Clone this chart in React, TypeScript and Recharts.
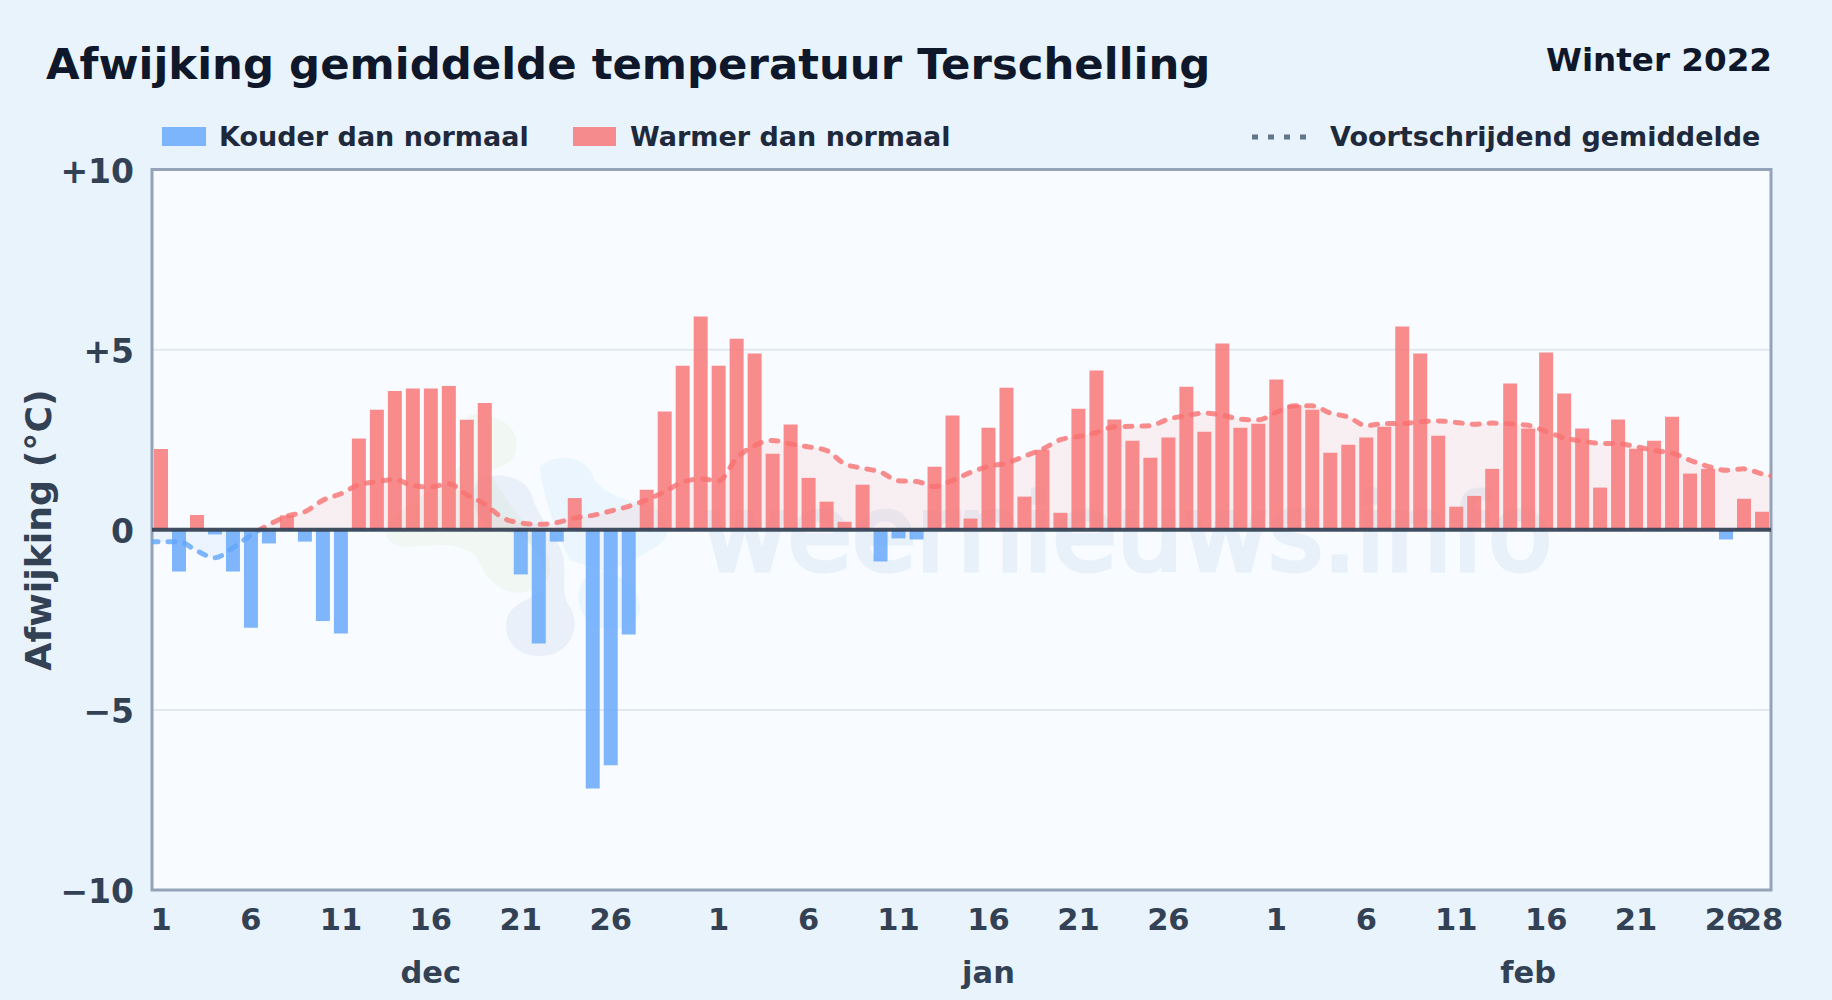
import { Area, Bar, CartesianGrid, ComposedChart, Line, ReferenceArea, ReferenceLine, XAxis, YAxis } from "recharts";

const dec = [2.24, -1.16, 0.41, -0.13, -1.16, -2.72, -0.38, 0.4, -0.33, -2.53, -2.88, 2.53, 3.33, 3.85, 3.92, 3.92, 3.99, 3.05, 3.52, 0, -1.24, -3.16, -0.33, 0.88, -7.18, -6.54, -2.91, 1.11, 3.28, 4.55, 5.92];
const jan = [4.55, 5.3, 4.89, 2.11, 2.92, 1.44, 0.78, 0.22, 1.25, -0.88, -0.24, -0.27, 1.75, 3.17, 0.31, 2.83, 3.94, 0.92, 2.22, 0.47, 3.36, 4.42, 3.06, 2.47, 2.0, 2.56, 3.97, 2.72, 5.17, 2.83, 2.94];
const feb = [4.17, 3.46, 3.33, 2.14, 2.36, 2.56, 2.86, 5.64, 4.89, 2.61, 0.64, 0.94, 1.69, 4.06, 2.81, 4.92, 3.78, 2.81, 1.17, 3.06, 2.25, 2.47, 3.14, 1.56, 1.69, -0.27, 0.86, 0.5];

const gemDec = [-0.33, -0.33, -0.59, -0.78, -0.5, -0.15, 0.14, 0.38, 0.5, 0.82, 1.0, 1.25, 1.33, 1.4, 1.22, 1.19, 1.28, 0.97, 0.71, 0.33, 0.19, 0.15, 0.2, 0.33, 0.4, 0.52, 0.65, 0.83, 1.06, 1.32, 1.41];
const gemJan = [1.36, 1.99, 2.34, 2.48, 2.38, 2.3, 2.2, 1.83, 1.71, 1.6, 1.36, 1.34, 1.2, 1.37, 1.59, 1.76, 1.85, 2.04, 2.24, 2.5, 2.59, 2.7, 2.86, 2.87, 2.89, 3.07, 3.17, 3.24, 3.18, 3.07, 3.05];
const gemFeb = [3.26, 3.44, 3.44, 3.24, 3.13, 2.89, 2.95, 2.95, 3.0, 3.02, 2.98, 2.93, 2.96, 2.94, 2.9, 2.73, 2.55, 2.46, 2.4, 2.39, 2.31, 2.2, 2.13, 1.93, 1.76, 1.65, 1.69, 1.55];
// the line runs on to the frame on both sides, these two rows sit just outside it
const gemRandLinks = -0.33;
const gemRandRechts = 1.45;

const dagTicks = [1, 6, 11, 16, 21, 26, 32, 37, 42, 47, 52, 57, 63, 68, 73, 78, 83, 88, 90];
const dagLabels = ["1", "6", "11", "16", "21", "26", "1", "6", "11", "16", "21", "26", "1", "6", "11", "16", "21", "26", "28"];
const maandTicks = [16, 47, 77];
const maandLabels = ["dec", "jan", "feb"];
const yTicks = [-10, -5, 0, 5, 10];

const afwijking = [...dec, ...jan, ...feb];
const gemiddelde = [...gemDec, ...gemJan, ...gemFeb];

const rows = [
  { dag: 0, gem: gemRandLinks },
  ...afwijking.map((v, i) => ({
    dag: i + 1,
    koud: v < 0 ? v : null,
    warm: v > 0 ? v : null,
    gem: gemiddelde[i],
  })),
  { dag: 91, gem: gemRandRechts },
];

const FONT = "'DejaVu Sans', sans-serif";
const PLOT_TOP = 169.5;
const PLOT_BOTTOM = 890;

const yLabel = (v: number) => (v > 0 ? `+${v}` : v < 0 ? `\u2212${-v}` : "0");

const App = () => {
  return (
    <div style={{ position: "absolute", left: 0, top: 0, width: 1832, height: 1000, background: "#e8f3fc", fontFamily: FONT }}>
      <ComposedChart
        width={1832}
        height={1000}
        data={rows}
        stackOffset="sign"
        margin={{ top: PLOT_TOP, right: 61, bottom: 0, left: 0 }}
      >
        <defs>
          <linearGradient id="gemLijn" gradientUnits="userSpaceOnUse" x1="0" y1={PLOT_TOP} x2="0" y2={PLOT_BOTTOM}>
            <stop offset="50%" stopColor="#f87171" />
            <stop offset="50%" stopColor="#60a5fa" />
          </linearGradient>
          <linearGradient id="gemVlak" gradientUnits="userSpaceOnUse" x1="0" y1={PLOT_TOP} x2="0" y2={PLOT_BOTTOM}>
            <stop offset="50%" stopColor="#f87171" stopOpacity={0.15} />
            <stop offset="50%" stopColor="#60a5fa" stopOpacity={0.15} />
          </linearGradient>
        </defs>

        <text x={46} y={79} fontSize={43.4} fontWeight={700} fill="#0f172a" fontFamily={FONT}>
          Afwijking gemiddelde temperatuur Terschelling
        </text>
        <text x={1772} y={71} fontSize={32.6} fontWeight={700} fill="#0f172a" textAnchor="end" fontFamily={FONT}>
          Winter 2022
        </text>

        <rect x={162} y={127} width={44} height={19} fill="#60a5fa" fillOpacity={0.8} />
        <text x={219} y={146} fontSize={27} fontWeight={700} fill="#1e293b" fontFamily={FONT}>
          Kouder dan normaal
        </text>
        <rect x={573} y={127} width={43} height={19} fill="#f87171" fillOpacity={0.8} />
        <text x={630} y={146} fontSize={27} fontWeight={700} fill="#1e293b" fontFamily={FONT}>
          Warmer dan normaal
        </text>
        <line x1={1252} x2={1307} y1={137} y2={137} stroke="#64748b" strokeWidth={5} strokeDasharray="6 10" />
        <text x={1330} y={146} fontSize={27} fontWeight={700} fill="#1e293b" fontFamily={FONT}>
          Voortschrijdend gemiddelde
        </text>

        <text
          x={51}
          y={530}
          fontSize={36.3}
          fontWeight={700}
          fill="#334155"
          textAnchor="middle"
          fontFamily={FONT}
          transform="rotate(-90 51 530)"
        >
          Afwijking (°C)
        </text>

        <CartesianGrid vertical={false} stroke="#e2e8f0" strokeWidth={2} fill="#f8fbff" />

        <text x={702} y={570} fontSize={104.5} fontWeight={400} fill="#8fb3dc" stroke="#8fb3dc" strokeWidth={5} opacity={0.14} fontFamily={FONT}>
          weernieuws.info
        </text>
        <g transform="translate(370 400) scale(0.3333)">
          <path
            d="M300 45 C380 35 445 80 440 140 C435 195 380 200 360 215 C400 300 470 370 500 420 C560 480 560 570 450 578 C380 580 340 520 320 470 C280 430 200 430 120 442 C60 440 40 410 50 380 C100 300 250 250 280 180 C260 130 260 70 300 45 Z"
            fill="#bedc82"
            fillOpacity={0.1}
          />
          <path
            d="M330 235 C400 210 480 240 490 300 C510 360 560 400 580 470 C590 530 570 580 600 620 C640 690 590 770 510 768 C440 770 400 720 410 660 C420 610 480 600 520 570 C540 500 500 440 440 400 C360 400 310 350 310 290 C310 260 320 240 330 235 Z"
            fill="#96b4d7"
            fillOpacity={0.14}
          />
          <path
            d="M510 200 C550 160 640 165 665 220 C690 290 780 300 850 320 C910 360 910 420 840 450 C780 490 720 510 650 530 C610 570 620 650 680 680 C740 700 810 680 810 620 C800 560 760 530 720 520 L600 480 C560 400 520 300 510 200 Z"
            fill="#96cdfa"
            fillOpacity={0.13}
          />
        </g>

        <XAxis
          xAxisId={0}
          dataKey="dag"
          type="number"
          domain={[0.5, 90.5]}
          allowDataOverflow
          ticks={dagTicks}
          interval={0}
          height={55}
          axisLine={false}
          tickLine={false}
          tickMargin={12}
          tickFormatter={(v: number) => dagLabels[dagTicks.indexOf(v)]}
          tick={{ fontSize: 30.5, fontWeight: 700, fill: "#334155", fontFamily: FONT }}
        />
        <XAxis
          xAxisId="maand"
          dataKey="dag"
          type="number"
          domain={[0.5, 90.5]}
          allowDataOverflow
          ticks={maandTicks}
          interval={0}
          height={55}
          axisLine={false}
          tickLine={false}
          tickMargin={10}
          tickFormatter={(v: number) => maandLabels[maandTicks.indexOf(v)]}
          tick={{ fontSize: 30.5, fontWeight: 700, fill: "#334155", fontFamily: FONT }}
        />
        <YAxis
          width={152}
          domain={[-10, 10]}
          ticks={yTicks}
          interval={0}
          axisLine={false}
          tickLine={false}
          tickMargin={12}
          tickFormatter={yLabel}
          tick={{ fontSize: 33, fontWeight: 700, fill: "#334155", fontFamily: FONT, dy: 1.5 }}
        />

        <Area
          dataKey="gem"
          type="monotone"
          stroke="none"
          fill="url(#gemVlak)"
          dot={false}
          activeDot={false}
          isAnimationActive={false}
        />
        <Bar dataKey="koud" stackId="dag" barSize={14} fill="#60a5fa" fillOpacity={0.8} isAnimationActive={false} />
        <Bar dataKey="warm" stackId="dag" barSize={14} fill="#f87171" fillOpacity={0.8} isAnimationActive={false} />
        <Line
          dataKey="gem"
          type="monotone"
          stroke="url(#gemLijn)"
          strokeWidth={5}
          strokeOpacity={0.8}
          strokeDasharray="7 10"
          strokeDashoffset={9}
          strokeLinecap="round"
          dot={false}
          activeDot={false}
          isAnimationActive={false}
        />
        <ReferenceLine y={0} stroke="#334155" strokeOpacity={0.92} strokeWidth={4} />
        <ReferenceArea x1={0.5} x2={90.5} y1={-10} y2={10} fill="none" stroke="#94a3b8" strokeWidth={3} />
      </ComposedChart>
    </div>
  );
};

export default App;
